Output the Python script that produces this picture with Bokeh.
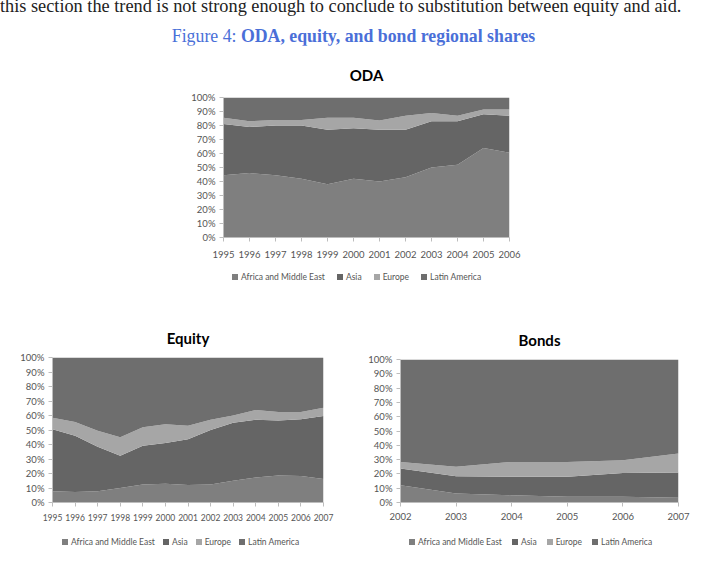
from bokeh.plotting import figure
from bokeh.layouts import column, row
from bokeh.models import (Div, Spacer, ColumnDataSource, FixedTicker,
                          NumeralTickFormatter, Range1d)
from bokeh.embed import file_html
from bokeh.resources import INLINE

regions = ["Africa and Middle East", "Asia", "Europe", "Latin America"]
colors = ["#7f7f7f", "#656565", "#a6a6a6", "#6e6e6e"]

# ODA shares (%)
oda_years = [1995, 1996, 1997, 1998, 1999, 2000, 2001, 2002, 2003, 2004, 2005, 2006]
oda_africa = [44.5, 46, 44.5, 42, 38, 42, 40, 43, 50, 52, 64, 60.5]
oda_asia = [36.5, 33, 35.5, 38, 39, 36, 37, 34, 33, 31, 24, 26.5]
oda_europe = [4.5, 4, 4, 4, 8.5, 7.5, 6.5, 10, 6, 4, 3.5, 4.5]
oda_latin = [14.5, 17, 16, 16, 14.5, 14.5, 16.5, 13, 11, 13, 8.5, 8.5]

# Equity shares (%)
eq_years = [1995, 1996, 1997, 1998, 1999, 2000, 2001, 2002, 2003, 2004, 2005, 2006, 2007]
eq_africa = [7.7, 7.3, 7.7, 10, 12.5, 13, 12, 12.5, 15, 17.3, 18.7, 18.2, 16.2]
eq_asia = [42.8, 38.7, 30.8, 22.3, 26.7, 28, 31.7, 37.5, 40, 39.7, 37.8, 39.2, 43.5]
eq_europe = [8, 9.6, 11, 12.7, 12.7, 13, 9.3, 7, 5, 6.8, 5.9, 5, 5.7]
eq_latin = [41.5, 44.4, 50.5, 55, 48.1, 46, 47, 43, 40, 36.2, 37.6, 37.6, 34.6]

# Bond shares (%)
bd_years = [2002, 2003, 2004, 2005, 2006, 2007]
bd_africa = [12, 6.3, 5.1, 4, 4, 3.3]
bd_asia = [11.8, 12.1, 12.9, 14, 16.7, 17.7]
bd_europe = [4.6, 6.6, 10.4, 10.4, 8.9, 13.3]
bd_latin = [71.6, 75, 71.6, 71.6, 70.4, 65.7]

y_ticks = [0, 0.1, 0.2, 0.3, 0.4, 0.5, 0.6, 0.7, 0.8, 0.9, 1.0]

TICK_FONT = "Lato"
TICK_COLOR = "#555555"


def make_chart(title, years, shares, width, height, bl, br, bt, bb,
               title_standoff, title_offset, xfont, xstandoff):
    data = {"year": years}
    keys = []
    for i, s in enumerate(shares):
        k = "s%d" % i
        data[k] = [v / 100.0 for v in s]
        keys.append(k)
    src = ColumnDataSource(data)
    p = figure(width=width, height=height, output_backend="svg", toolbar_location=None,
               x_range=Range1d(years[0], years[-1]), y_range=Range1d(0, 1),
               min_border_left=bl, min_border_right=br, min_border_top=bt,
               min_border_bottom=bb, title=title)
    p.varea_stack(stackers=keys, x="year", color=colors, source=src)
    p.title.align = "center"
    p.title.text_font = "Lato"
    p.title.text_font_style = "bold"
    p.title.text_font_size = "15px"
    p.title.text_color = "#000000"
    p.title.standoff = title_standoff
    p.title.offset = title_offset
    p.outline_line_color = None
    p.xgrid.visible = False
    p.ygrid.visible = False
    for ax in (p.xaxis[0], p.yaxis[0]):
        ax.axis_line_color = "#bdbdbd"
        ax.major_tick_line_color = "#bdbdbd"
        ax.major_tick_in = 0
        ax.major_tick_out = 4
        ax.minor_tick_line_color = None
        ax.major_label_text_font = TICK_FONT
        ax.major_label_text_font_size = "9.5px"
        ax.major_label_text_color = TICK_COLOR
        ax.major_label_standoff = 4
    p.xaxis[0].major_label_text_font_size = xfont
    p.xaxis[0].major_label_standoff = xstandoff
    p.yaxis[0].ticker = FixedTicker(ticks=y_ticks)
    p.yaxis[0].formatter = NumeralTickFormatter(format="0%")
    p.xaxis[0].ticker = FixedTicker(ticks=years)
    return p


def legend_div(width, height, left, block_h, gap):
    items = []
    for name, c in zip(regions, colors):
        items.append(
            '<span style="display:inline-flex;align-items:center;">'
            '<span style="display:inline-block;width:6px;height:6px;background:%s;'
            'margin-right:3px;"></span>%s</span>' % (c, name))
    html = ('<div style="padding-left:%dpx;height:%dpx;display:flex;align-items:center;'
            'gap:%dpx;font-family:Lato;font-size:8.5px;color:%s;white-space:nowrap;">%s</div>'
            % (left, block_h, gap, TICK_COLOR, "".join(items)))
    return Div(text=html, width=width, height=height, margin=0)


oda = make_chart("ODA", oda_years, [oda_africa, oda_asia, oda_europe, oda_latin],
                 360, 223, 53, 21, 52, 31, 28, -11, "9.5px", 9)
eq = make_chart("Equity", eq_years, [eq_africa, eq_asia, eq_europe, eq_latin],
                350, 235, 52, 27, 59, 31, 21, -9, "8.5px", 7)
bd = make_chart("Bonds", bd_years, [bd_africa, bd_asia, bd_europe, bd_latin],
                357, 235, 50, 29, 61, 31, 22, -10, "9.5px", 6)

oda_leg = legend_div(360, 24, 62, 19, 12)
eq_leg = legend_div(350, 28, 62, 18, 8)
bd_leg = legend_div(357, 28, 59, 17, 10)

top_text = Div(
    text=('<div style="margin-top:-10px;font-family:\'Liberation Serif\';font-size:18.3px;'
          'white-space:nowrap;color:#222;line-height:20px;">'
          'this section the trend is not strong enough to conclude to substitution '
          'between equity and aid.</div>'),
    width=707, height=14, margin=0)

caption = Div(
    text=('<div style="padding-top:12px;text-align:center;width:707px;'
          'font-family:\'Liberation Serif\';font-size:17.8px;color:#4a6fd8;line-height:20px;">'
          'Figure 4: <b>ODA, equity, and bond regional shares</b></div>'),
    width=707, height=31, margin=0)

layout = column(
    top_text,
    caption,
    row(Spacer(width=170, height=247), column(oda, oda_leg)),
    Spacer(width=707, height=6),
    row(column(eq, eq_leg), column(bd, bd_leg)),
)

open("out.html", "w").write(file_html(layout, INLINE))
